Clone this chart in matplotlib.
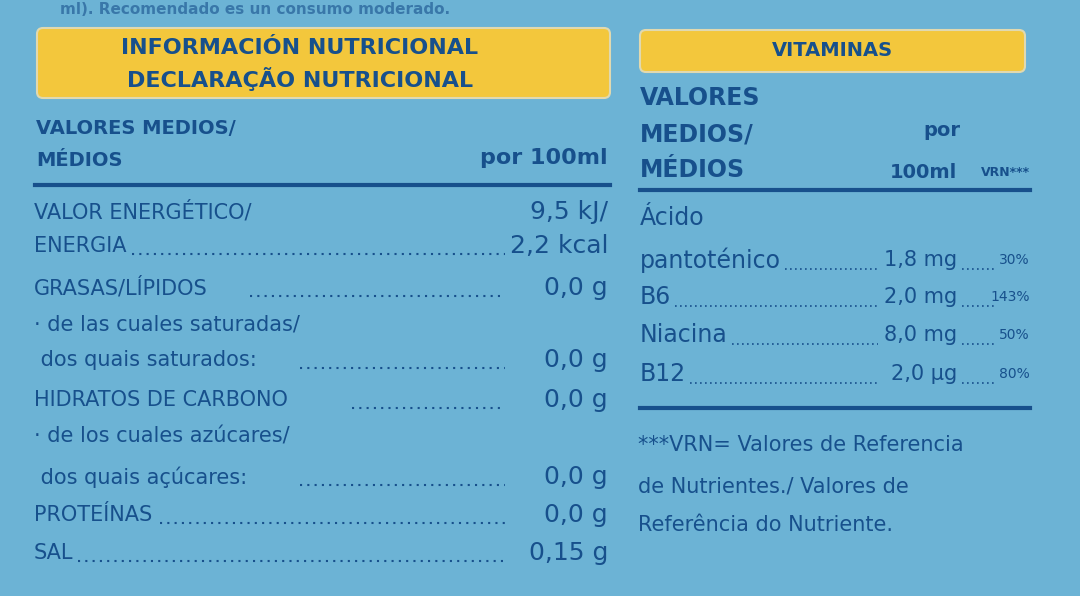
import matplotlib
matplotlib.use("Agg")
import matplotlib.pyplot as plt
from matplotlib.patches import FancyBboxPatch

nut_labels = ["VALOR ENERGÉTICO/", "ENERGIA", "GRASAS/LÍPIDOS", "· de las cuales saturadas/",
              " dos quais saturados:", "HIDRATOS DE CARBONO", "· de los cuales azúcares/",
              " dos quais açúcares:", "PROTEÍNAS", "SAL"]
nut_values = ["9,5 kJ/", "2,2 kcal", "0,0 g", "", "0,0 g", "0,0 g", "", "0,0 g", "0,0 g", "0,15 g"]
nut_y = [212, 246, 288, 325, 360, 400, 437, 477, 515, 553]
nut_dot_start = [None, 132, 250, None, 300, 352, None, 300, 160, 78]

vit_labels = ["Ácido", "pantoténico", "B6", "Niacina", "B12"]
vit_amount = ["", "1,8 mg", "2,0 mg", "8,0 mg", "2,0 µg"]
vit_vrn = ["", "30%", "143%", "50%", "80%"]
vit_y = [218, 260, 297, 335, 374]
vit_dot_start = [None, 785, 675, 732, 690]

BG = "#6cb3d5"
INK = "#17508c"
YEL = "#f3c73c"

fig = plt.figure(figsize=(10.8, 5.96), dpi=100, facecolor=BG)
ax = fig.add_axes([0, 0, 1, 1])
ax.set_xlim(0, 1080); ax.set_ylim(596, 0); ax.axis("off")

def box(x, y, w, h):
    ax.add_patch(FancyBboxPatch((x, y), w, h, boxstyle="round,pad=0,rounding_size=6",
                                fc=YEL, ec="#e0d9b0", lw=1.5))

ax.text(60, 9, "ml). Recomendado es un consumo moderado.", color=INK, fontsize=11,
        fontweight="bold", va="center", alpha=0.6)

box(37, 28, 573, 70)
ax.text(300, 48, "INFORMACIÓN NUTRICIONAL", color=INK, fontsize=16, fontweight="bold",
        ha="center", va="center")
ax.text(300, 79, "DECLARAÇÃO NUTRICIONAL", color=INK, fontsize=16, fontweight="bold",
        ha="center", va="center")
ax.text(36, 128, "VALORES MEDIOS/", color=INK, fontsize=14, fontweight="bold", va="center")
ax.text(36, 160, "MÉDIOS", color=INK, fontsize=14, fontweight="bold", va="center")
ax.text(608, 158, "por 100ml", color=INK, fontsize=16, fontweight="bold", ha="right", va="center")
ax.plot([35, 610], [185, 185], color=INK, lw=3)

for lab, val, y, xs in zip(nut_labels, nut_values, nut_y, nut_dot_start):
    ax.text(34, y, lab, color=INK, fontsize=15, va="center")
    if val:
        ax.text(608, y, val, color=INK, fontsize=18, ha="right", va="center")
    if xs is not None:
        ax.plot([xs, 505], [y + 8, y + 8], color=INK, lw=1.5, ls=(0, (1, 2.5)))

box(640, 30, 385, 42)
ax.text(832, 50, "VITAMINAS", color=INK, fontsize=14, fontweight="bold", ha="center", va="center")
for t, y in zip(["VALORES", "MEDIOS/", "MÉDIOS"], [98, 134, 170]):
    ax.text(640, y, t, color=INK, fontsize=17, fontweight="bold", va="center")
ax.text(942, 131, "por", color=INK, fontsize=14, fontweight="bold", ha="center", va="center")
ax.text(957, 172, "100ml", color=INK, fontsize=14, fontweight="bold", ha="right", va="center")
ax.text(1030, 172, "VRN***", color=INK, fontsize=9, fontweight="bold", ha="right", va="center")
ax.plot([640, 1030], [190, 190], color=INK, lw=3)

for lab, amt, vr, y, xs in zip(vit_labels, vit_amount, vit_vrn, vit_y, vit_dot_start):
    ax.text(640, y, lab, color=INK, fontsize=17, va="center")
    if amt:
        ax.text(957, y, amt, color=INK, fontsize=15, ha="right", va="center")
        ax.text(1030, y, vr, color=INK, fontsize=10, ha="right", va="center")
        ax.plot([xs, 878], [y + 9, y + 9], color=INK, lw=1.2, ls=(0, (1, 2)))
        ax.plot([962, 997], [y + 9, y + 9], color=INK, lw=1.2, ls=(0, (1, 2)))
ax.plot([640, 1030], [408, 408], color=INK, lw=3)

for t, y in zip(["***VRN= Valores de Referencia", "de Nutrientes./ Valores de",
                 "Referência do Nutriente."], [445, 487, 525]):
    ax.text(638, y, t, color=INK, fontsize=15, va="center")

fig.savefig("out.png", dpi=100, facecolor=BG)
